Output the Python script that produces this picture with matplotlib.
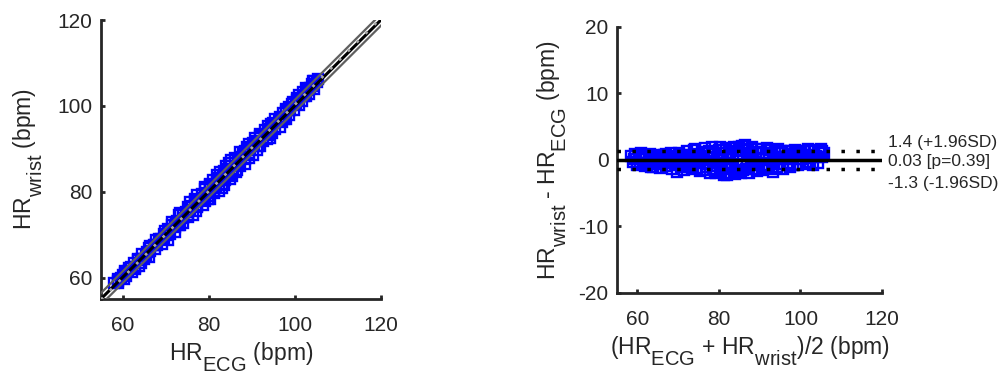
import numpy as np
import matplotlib
matplotlib.use('Agg')
import matplotlib.pyplot as plt
import matplotlib._mathtext as mathtext_impl

plt.rcParams['font.family'] = ['Liberation Sans', 'DejaVu Sans']
plt.rcParams['mathtext.default'] = 'regular'
plt.rcParams['axes.unicode_minus'] = False
# MATLAB-style subscripts: barely smaller, dropped further below the baseline
mathtext_impl.SHRINK_FACTOR = 0.88
mathtext_impl.FontConstantsBase.sub1 = 0.85

# Bland-Altman readings: mean of the two devices and wrist - ECG difference (bpm)
mean_hr = [58.4, 58.9, 59.3, 59.7, 59.9,
           60.3, 60.6, 61.0, 61.4, 61.8, 61.9,
           62.2, 62.6, 63.0, 63.3, 63.8, 63.9,
           64.3, 64.7, 65.0, 65.5, 65.8,
           66.2, 66.6, 67.0, 67.4, 67.8,
           68.2, 68.5, 68.9, 69.3, 69.7, 69.9,
           70.3, 70.6, 71.0, 71.4, 71.8, 71.9,
           72.2, 72.6, 73.0, 73.4, 73.8, 73.9,
           74.2, 74.6, 75.0, 75.4, 75.8, 75.9,
           76.2, 76.6, 77.0, 77.4, 77.8, 77.9,
           78.2, 78.5, 78.9, 79.3, 79.6, 79.9, 79.5,
           80.2, 80.5, 80.9, 81.2, 81.5, 81.8, 81.9,
           82.2, 82.5, 82.9, 83.2, 83.6, 83.9,
           84.2, 84.6, 85.0, 85.3, 85.7, 85.9,
           86.3, 86.6, 87.0, 87.4, 87.8,
           88.2, 88.6, 89.0, 89.4, 89.8,
           90.2, 90.5, 90.9, 91.3, 91.7,
           92.2, 92.6, 93.0, 93.3, 93.7, 93.9,
           94.2, 94.6, 95.0, 95.4, 95.8,
           96.2, 96.6, 97.0, 97.4, 97.8,
           98.2, 98.6, 99.0, 99.4, 99.8,
           100.2, 100.6, 101.0, 101.4, 101.8,
           102.2, 102.6, 103.0, 103.4, 103.8,
           104.2, 104.6, 105.0, 105.4, 105.8,
           59.1, 60.8, 62.4, 64.0, 65.2, 66.9, 67.6, 68.7, 70.1, 70.9,
           72.4, 72.9, 74.4, 74.9, 76.4, 76.9, 77.6, 78.7, 79.1, 80.4,
           80.7, 81.0, 82.4, 82.7, 83.4, 84.4, 84.8, 85.5, 86.0, 86.8,
           87.2, 88.0, 88.4, 89.2, 89.6, 90.7, 91.1, 91.5, 92.4, 93.5,
           94.4, 95.2, 96.4, 97.2, 98.4, 99.2, 100.4, 101.2, 102.4, 103.2,
           104.4, 105.2]
diff_hr = [0.6, -0.3, 0.9, 0.2, -0.7,
           0.4, -0.5, 1.0, 0.1, -0.9, 0.7,
           0.3, -0.4, 0.9, -1.1, -1.0, 0.5,
           0.2, -0.6, 0.8, -1.2, 0.4,
           -0.2, 0.7, -0.9, 0.3, -0.5,
           1.0, -1.3, 0.1, -0.7, -1.8, 0.6,
           1.1, -1.0, 0.3, -1.5, 0.8, -0.4,
           1.3, -0.8, 0.5, -1.4, 1.5, -0.2,
           1.6, -1.2, 0.7, -1.7, 0.1, 1.2,
           -1.5, 1.8, -0.6, 1.0, -1.9, 0.4,
           1.9, -1.4, 0.9, -2.0, 0.2, 1.5, -0.9,
           2.0, -1.6, 1.1, -2.2, -0.4, 1.7, -2.3,
           0.6, -1.9, 1.8, -1.1, 2.0, -2.1,
           1.3, -1.7, 1.9, -0.8, 2.1, -1.5,
           2.2, -1.3, 1.6, -1.9, 0.5,
           1.9, -1.4, 1.2, -1.7, 0.3,
           1.7, -1.5, 1.0, -1.2, 1.8,
           -0.9, 1.5, -1.3, -1.8, 1.2, 0.4,
           -1.1, 1.6, -0.6, 1.0, -1.4,
           1.4, -0.8, 0.9, -1.0, 1.3,
           -0.7, 1.5, 0.2, -0.8, 1.1,
           1.4, -0.6, 0.8, -0.4, 1.6,
           0.3, 1.3, -0.7, 1.5, 0.6,
           -0.5, 1.2, 1.7, 0.4, 1.0,
           0.1, 0.6, -0.8, 0.6, -0.3, 0.9, 0.0, 0.5, -0.6, 0.8,
           0.2, -1.1, 0.9, -0.5, 0.6, -1.0, 1.4, -0.3, -1.6, 0.4,
           -0.9, 1.5, -1.3, 1.1, 0.2, -0.6, 0.8, -1.9, 1.5, -0.2,
           1.0, -0.8, 0.9, -0.5, 1.6, 0.2, -0.7, 0.6, 1.0, -0.4,
           0.5, 1.3, 0.1, -0.5, 0.7, 1.2, 0.2, 1.3, -0.3, 0.8,
           0.5, 1.3]

bias = 0.03
upper_loa = 1.4
lower_loa = -1.3
p_value = 0.39

mean_hr = np.array(mean_hr)
diff_hr = np.array(diff_hr)
hr_ecg = mean_hr - diff_hr / 2
hr_wrist = mean_hr + diff_hr / 2

txt_col = '#262626'
fig = plt.figure(figsize=(10.01, 3.78), dpi=100)
ax1 = fig.add_axes([0.1009, 0.209, 0.2797, 0.738])
ax2 = fig.add_axes([0.6164, 0.2249, 0.2647, 0.7037])

# --- correlation plot
ax1.plot(hr_ecg, hr_wrist, 's', ms=7, mfc='none', mec='blue', mew=1.7, zorder=2)
xx = np.array([55, 120])
ax1.plot(xx, xx + upper_loa, color='#5f5f5f', lw=1.6, zorder=3)
ax1.plot(xx, xx + lower_loa, color='#5f5f5f', lw=1.6, zorder=3)
ax1.plot(xx, xx + bias, color='black', lw=2.2, zorder=3)
slope, icpt = np.polyfit(hr_ecg, hr_wrist, 1)
ax1.plot(xx, slope * xx + icpt, color='#a8a8a8', lw=2, ls=(0, (1, 3.5)), zorder=4)
ax1.set_xlim(55, 120)
ax1.set_ylim(55, 120)
ax1.set_xticks([60, 80, 100, 120])
ax1.set_yticks([60, 80, 100, 120])
ax1.set_xlabel('HR$_{ECG}$ (bpm)', fontsize=16.5, color=txt_col)
ax1.set_ylabel('HR$_{wrist}$ (bpm)', fontsize=16.5, color=txt_col)
ax1.yaxis.set_label_coords(-0.20, 0.5)

# --- Bland-Altman plot
ax2.plot(mean_hr, diff_hr, 's', ms=7, mfc='none', mec='blue', mew=1.7, zorder=2)
ax2.plot(xx, [bias, bias], color='black', lw=2.5, zorder=3)
ax2.plot(xx, [upper_loa, upper_loa], color='black', lw=2.5, ls=(0, (1, 3.3)), zorder=3)
ax2.plot(xx, [lower_loa, lower_loa], color='black', lw=2.5, ls=(0, (1, 3.3)), zorder=3)
ax2.set_xlim(55, 120)
ax2.set_ylim(-20, 20)
ax2.set_xticks([60, 80, 100, 120])
ax2.set_yticks([-20, -10, 0, 10, 20])
ax2.set_xlabel('(HR$_{ECG}$ + HR$_{wrist}$)/2 (bpm)', fontsize=16.5, color=txt_col)
ax2.set_ylabel('HR$_{wrist}$ - HR$_{ECG}$ (bpm)', fontsize=16.5, color=txt_col)
ax2.yaxis.set_label_coords(-0.18, 0.5)

ax2.text(121.5, upper_loa + 1.3, f'{upper_loa} (+1.96SD)', fontsize=12.5,
         va='center', color=txt_col, clip_on=False)
ax2.text(121.5, bias - 0.3, f'{bias} [p={p_value}]', fontsize=12.5,
         va='center', color=txt_col, clip_on=False)
ax2.text(121.5, lower_loa - 2.2, f'{lower_loa} (-1.96SD)', fontsize=12.5,
         va='center', color=txt_col, clip_on=False)

for ax in (ax1, ax2):
    for s in ('top', 'right'):
        ax.spines[s].set_visible(False)
    for s in ('left', 'bottom'):
        ax.spines[s].set_linewidth(2)
        ax.spines[s].set_color(txt_col)
    ax.tick_params(direction='in', length=3, width=2, colors=txt_col,
                   labelsize=15)
    ax.tick_params(axis='x', pad=12.5)
    ax.tick_params(axis='y', pad=6)

fig.savefig('out.png', dpi=100)
